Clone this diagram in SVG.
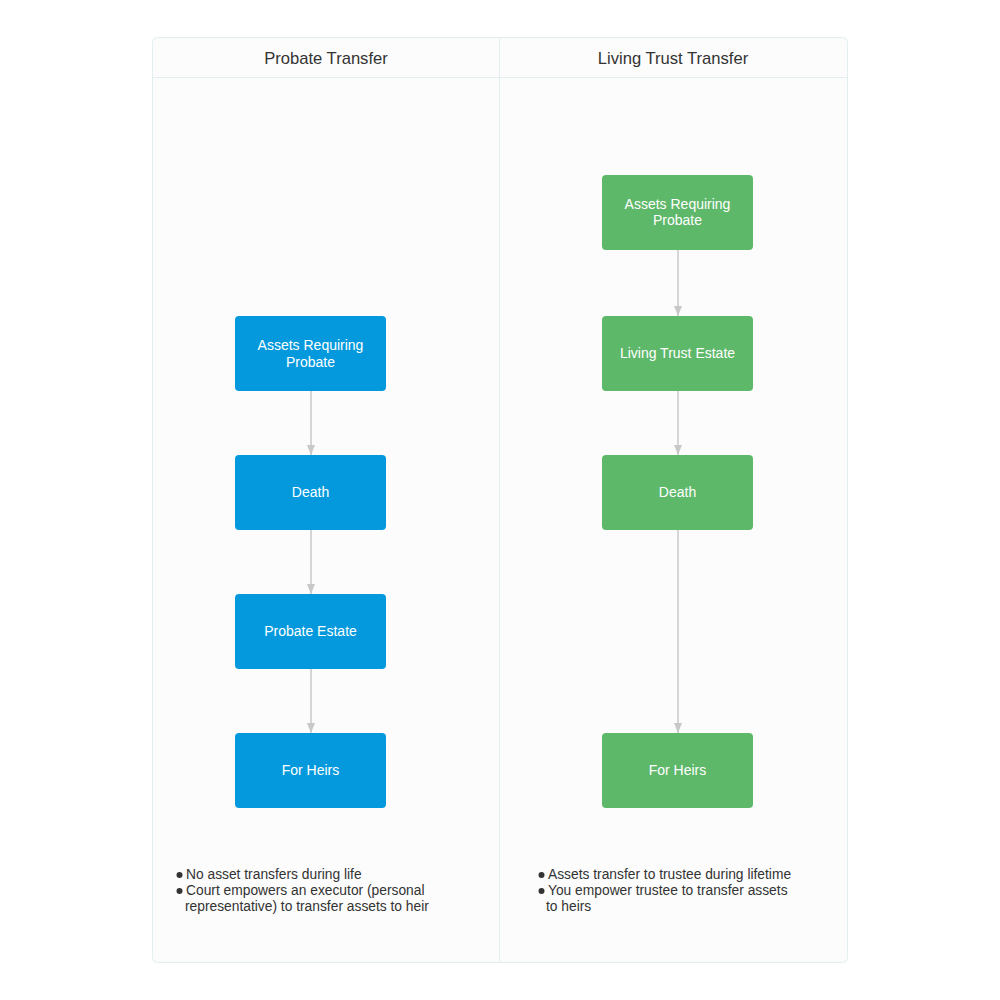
<svg xmlns="http://www.w3.org/2000/svg" width="1000" height="1000" viewBox="0 0 1000 1000">
<style>
.hdr{font-family:"Liberation Sans",Arial,sans-serif;font-size:16.6px;fill:#333;text-anchor:middle}
.nt{font-family:"Liberation Sans",Arial,sans-serif;font-size:14px;fill:#fff;text-anchor:middle}
.bl{font-family:"Liberation Sans",Arial,sans-serif;font-size:13.8px;fill:#333}
.blue{fill:#0399dc}
.green{fill:#5eb86a}
.conn{stroke:#c8c8c8;stroke-width:1.5;fill:none}
</style>
<defs>
<marker id="ah" markerWidth="10" markerHeight="8" refX="10" refY="4" orient="auto" markerUnits="userSpaceOnUse">
<path d="M0,0 L10,4 L0,8 Z" fill="#c8c8c8"/>
</marker>
</defs>
<rect width="1000" height="1000" fill="#fff"/>
<g id="container">
<rect x="152.5" y="37.5" width="695" height="925" rx="5" fill="#fcfcfc" stroke="#e3eef0"/>
<line x1="152.5" y1="77.5" x2="847.5" y2="77.5" stroke="#e3eef0"/>
<line x1="499.5" y1="37.5" x2="499.5" y2="962.5" stroke="#e3eef0"/>
<text class="hdr" x="326" y="64">Probate Transfer</text>
<text class="hdr" x="673" y="64">Living Trust Transfer</text>
</g>
<g id="connectors">
<line class="conn" x1="311" y1="391" x2="311" y2="455" marker-end="url(#ah)"/>
<line class="conn" x1="311" y1="530" x2="311" y2="594" marker-end="url(#ah)"/>
<line class="conn" x1="311" y1="669" x2="311" y2="733" marker-end="url(#ah)"/>
<line class="conn" x1="678" y1="250" x2="678" y2="316" marker-end="url(#ah)"/>
<line class="conn" x1="678" y1="391" x2="678" y2="455" marker-end="url(#ah)"/>
<line class="conn" x1="678" y1="530" x2="678" y2="733" marker-end="url(#ah)"/>
</g>
<g id="p1"><rect class="blue" x="235" y="316" width="151" height="75" rx="4"/><text class="nt" x="310.5" y="350">Assets Requiring</text><text class="nt" x="310.5" y="367">Probate</text></g>
<g id="p2"><rect class="blue" x="235" y="455" width="151" height="75" rx="4"/><text class="nt" x="310.5" y="497">Death</text></g>
<g id="p3"><rect class="blue" x="235" y="594" width="151" height="75" rx="4"/><text class="nt" x="310.5" y="636">Probate Estate</text></g>
<g id="p4"><rect class="blue" x="235" y="733" width="151" height="75" rx="4"/><text class="nt" x="310.5" y="775">For Heirs</text></g>
<g id="t1"><rect class="green" x="602" y="175" width="151" height="75" rx="4"/><text class="nt" x="677.5" y="209">Assets Requiring</text><text class="nt" x="677.5" y="225">Probate</text></g>
<g id="t2"><rect class="green" x="602" y="316" width="151" height="75" rx="4"/><text class="nt" x="677.5" y="358">Living Trust Estate</text></g>
<g id="t3"><rect class="green" x="602" y="455" width="151" height="75" rx="4"/><text class="nt" x="677.5" y="497">Death</text></g>
<g id="t4"><rect class="green" x="602" y="733" width="151" height="75" rx="4"/><text class="nt" x="677.5" y="775">For Heirs</text></g>
<g id="notes-left">
<circle cx="179.5" cy="875" r="3" fill="#333"/>
<text class="bl" x="186" y="879">No asset transfers during life</text>
<circle cx="179.5" cy="891" r="3" fill="#333"/>
<text class="bl" x="186" y="895">Court empowers an executor (personal</text>
<text class="bl" x="185" y="911">representative) to transfer assets to heir</text>
</g>
<g id="notes-right">
<circle cx="541.5" cy="875" r="3" fill="#333"/>
<text class="bl" x="548" y="879">Assets transfer to trustee during lifetime</text>
<circle cx="541.5" cy="891" r="3" fill="#333"/>
<text class="bl" x="548" y="895">You empower trustee to transfer assets</text>
<text class="bl" x="546" y="911">to heirs</text>
</g>
</svg>
